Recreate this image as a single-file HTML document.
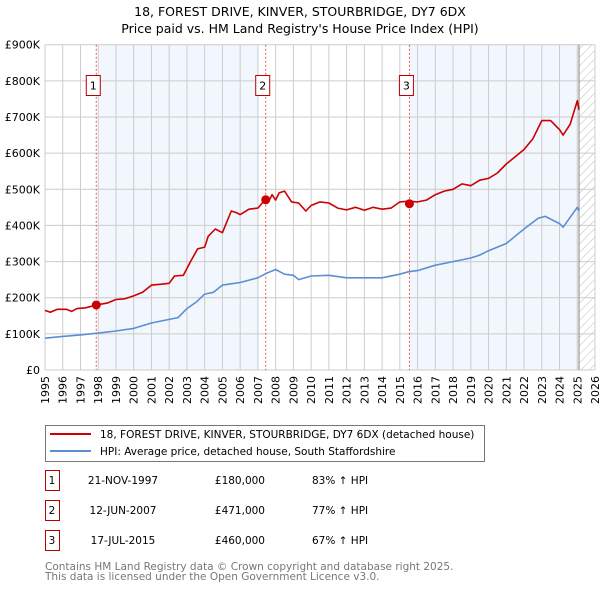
<!DOCTYPE html>
<html><head><meta charset="utf-8"><style>
body{margin:0;background:#fff;font-family:"Liberation Sans","DejaVu Sans",sans-serif;}
svg text{font-family:"DejaVu Sans","Liberation Sans",sans-serif;}
</style></head><body>
<svg id="c" width="600" height="590" xmlns="http://www.w3.org/2000/svg">
<defs><pattern id="hatch" width="6" height="6" patternUnits="userSpaceOnUse" patternTransform="rotate(45)"><line x1="0" y1="0" x2="0" y2="6" stroke="#bbb" stroke-width="1"/></pattern></defs>
<text x="300" y="16" text-anchor="middle" font-size="12.5">18, FOREST DRIVE, KINVER, STOURBRIDGE, DY7 6DX</text>
<text x="300" y="33" text-anchor="middle" font-size="12.5">Price paid vs. HM Land Registry's House Price Index (HPI)</text>
<g id="plot"></g>
<g>
<rect x="45.5" y="425.5" width="439" height="36" fill="#fff" stroke="#777"/>
<line x1="50" y1="434" x2="91" y2="434" stroke="#cc0000" stroke-width="2"/>
<text x="100" y="438" font-size="10.5">18, FOREST DRIVE, KINVER, STOURBRIDGE, DY7 6DX (detached house)</text>
<line x1="50" y1="451" x2="91" y2="451" stroke="#5b8fd4" stroke-width="2"/>
<text x="100" y="455" font-size="10.5">HPI: Average price, detached house, South Staffordshire</text>
</g>
<g id="table" font-size="10.5"></g>
<text x="45" y="570" font-size="10.5" fill="#777">Contains HM Land Registry data © Crown copyright and database right 2025.</text>
<text x="45" y="580" font-size="10.5" fill="#777">This data is licensed under the Open Government Licence v3.0.</text>
</svg>
<script>
const yearTicks=[1995,1996,1997,1998,1999,2000,2001,2002,2003,2004,2005,2006,2007,2008,2009,2010,2011,2012,2013,2014,2015,2016,2017,2018,2019,2020,2021,2022,2023,2024,2025,2026];
const valueTicks=[0,100,200,300,400,500,600,700,800,900];
const valueLabels=["£0","£100K","£200K","£300K","£400K","£500K","£600K","£700K","£800K","£900K"];
const redT=[1995.0,1995.3,1995.7,1996.2,1996.5,1996.8,1997.3,1997.9,1998.5,1999,1999.5,2000,2000.5,2001,2001.5,2002,2002.3,2002.8,2003.2,2003.6,2004,2004.2,2004.6,2005,2005.5,2005.8,2006,2006.5,2007,2007.4,2007.6,2007.8,2008,2008.2,2008.5,2008.9,2009.3,2009.7,2010,2010.5,2011,2011.5,2012,2012.5,2013,2013.5,2014,2014.5,2015,2015.5,2016,2016.5,2017,2017.5,2018,2018.5,2019,2019.5,2020,2020.5,2021,2021.5,2022,2022.5,2023,2023.5,2024,2024.2,2024.6,2025,2025.1];
const redV=[165,160,168,168,162,170,172,180,185,195,197,205,215,235,237,240,260,262,300,335,340,370,390,380,440,435,430,445,448,471,465,485,470,490,495,465,462,440,455,465,462,448,443,450,442,450,445,448,465,467,465,470,485,495,500,515,510,525,530,545,570,590,610,640,690,690,665,650,680,745,720];
const blueT=[1995,1996,1997,1998,1999,2000,2001,2002,2002.5,2003,2003.5,2004,2004.5,2005,2006,2007,2007.5,2008,2008.5,2009,2009.3,2010,2011,2012,2013,2014,2015,2015.5,2016,2017,2018,2019,2019.5,2020,2021,2022,2022.8,2023.2,2024,2024.2,2025,2025.1];
const blueV=[88,93,97,102,108,115,130,140,145,170,187,210,215,235,242,255,268,278,265,262,250,260,262,255,255,255,265,272,275,290,300,310,318,330,350,390,420,425,405,395,450,440];
const saleDates=[1997.89,2007.44,2015.54];
const salePrices=[180,471,460];
const saleLabels=["1","2","3"];
const tableDates=["21-NOV-1997","12-JUN-2007","17-JUL-2015"];
const tablePrices=["£180,000","£471,000","£460,000"];
const tableHpi=["83% ↑ HPI","77% ↑ HPI","67% ↑ HPI"];

const NS="http://www.w3.org/2000/svg";
const X0=45,X1=595,Y0=370,Y1=44.7;
const xs=t=>X0+(t-1995)/(2026-1995)*(X1-X0);
const ys=v=>Y0-v/900*(Y0-Y1);
const plot=document.getElementById('plot');
function mk(tag,at,parent){const e=document.createElementNS(NS,tag);for(const k in at)e.setAttribute(k,at[k]);(parent||plot).appendChild(e);return e;}
let b1=mk('rect',{x:xs(1998),y:Y1,width:xs(2007)-xs(1998),height:Y0-Y1,fill:'#f2f6fd'});


let b2=mk('rect',{x:xs(saleDates[2]),y:Y1,width:xs(2025.1)-xs(saleDates[2]),height:Y0-Y1,fill:'#f2f6fd'});


let hz=mk('rect',{x:xs(2025.1),y:Y1,width:X1-xs(2025.1),height:Y0-Y1,fill:'url(#hatch)'});


yearTicks.forEach(t=>{const g=mk('line',{x1:xs(t),x2:xs(t),y1:Y1,y2:Y0,stroke:'#ccc','stroke-width':1});


const tx=mk('text',{x:0,y:0,'font-size':11,'text-anchor':'end',transform:`translate(${xs(t)+4},${Y0+6}) rotate(-90)`});tx.textContent=t;

});
valueTicks.forEach((v,i)=>{const g=mk('line',{x1:X0,x2:X1,y1:ys(v),y2:ys(v),stroke:'#ccc','stroke-width':1});


const tx=mk('text',{x:40,y:ys(v)+4,'font-size':11,'text-anchor':'end'});tx.textContent=valueLabels[i];

});
mk('line',{x1:xs(2025.1),x2:xs(2025.1),y1:Y1,y2:Y0,stroke:'#888','stroke-width':1});
saleDates.forEach((d,i)=>{const l=mk('line',{x1:xs(d),x2:xs(d),y1:Y1,y2:Y0,stroke:'#e55','stroke-width':1,'stroke-dasharray':'2,2'});


const r=mk('rect',{x:xs(d)-10,y:75.5,width:14,height:20,fill:'#fff',stroke:'#b00'});


const t=mk('text',{x:xs(d)-3,y:89.5,'font-size':11,'text-anchor':'middle'});t.textContent=saleLabels[i];

});
function line(T,V,col,name){const d=T.map((t,i)=>(i?'L':'M')+xs(t).toFixed(1)+','+ys(V[i]).toFixed(1)).join('');
const p=mk('path',{d,fill:'none',stroke:col,'stroke-width':1.6,'stroke-linejoin':'round'});

}
line(blueT,blueV,'#5b8fd4','hpi-line');
line(redT,redV,'#cc0000','property-price-line');
saleDates.forEach((d,i)=>{const c=mk('circle',{cx:xs(d),cy:ys(salePrices[i]),r:4.5,fill:'#cc0000'});

});
const tb=document.getElementById('table');
saleLabels.forEach((s,i)=>{const y=483+i*30;
const r=mk('rect',{x:45.5,y:y-12.5,width:14,height:20,fill:'#fff',stroke:'#b00'},tb);


const vals=[[52,s,'middle'],[123,tableDates[i],'middle'],[265,tablePrices[i],'end'],[312,tableHpi[i],'start']];
vals.forEach(v=>{const t=mk('text',{x:v[0],y:y+1,'text-anchor':v[2]},tb);t.textContent=v[1];

});});
</script>
</body></html>
